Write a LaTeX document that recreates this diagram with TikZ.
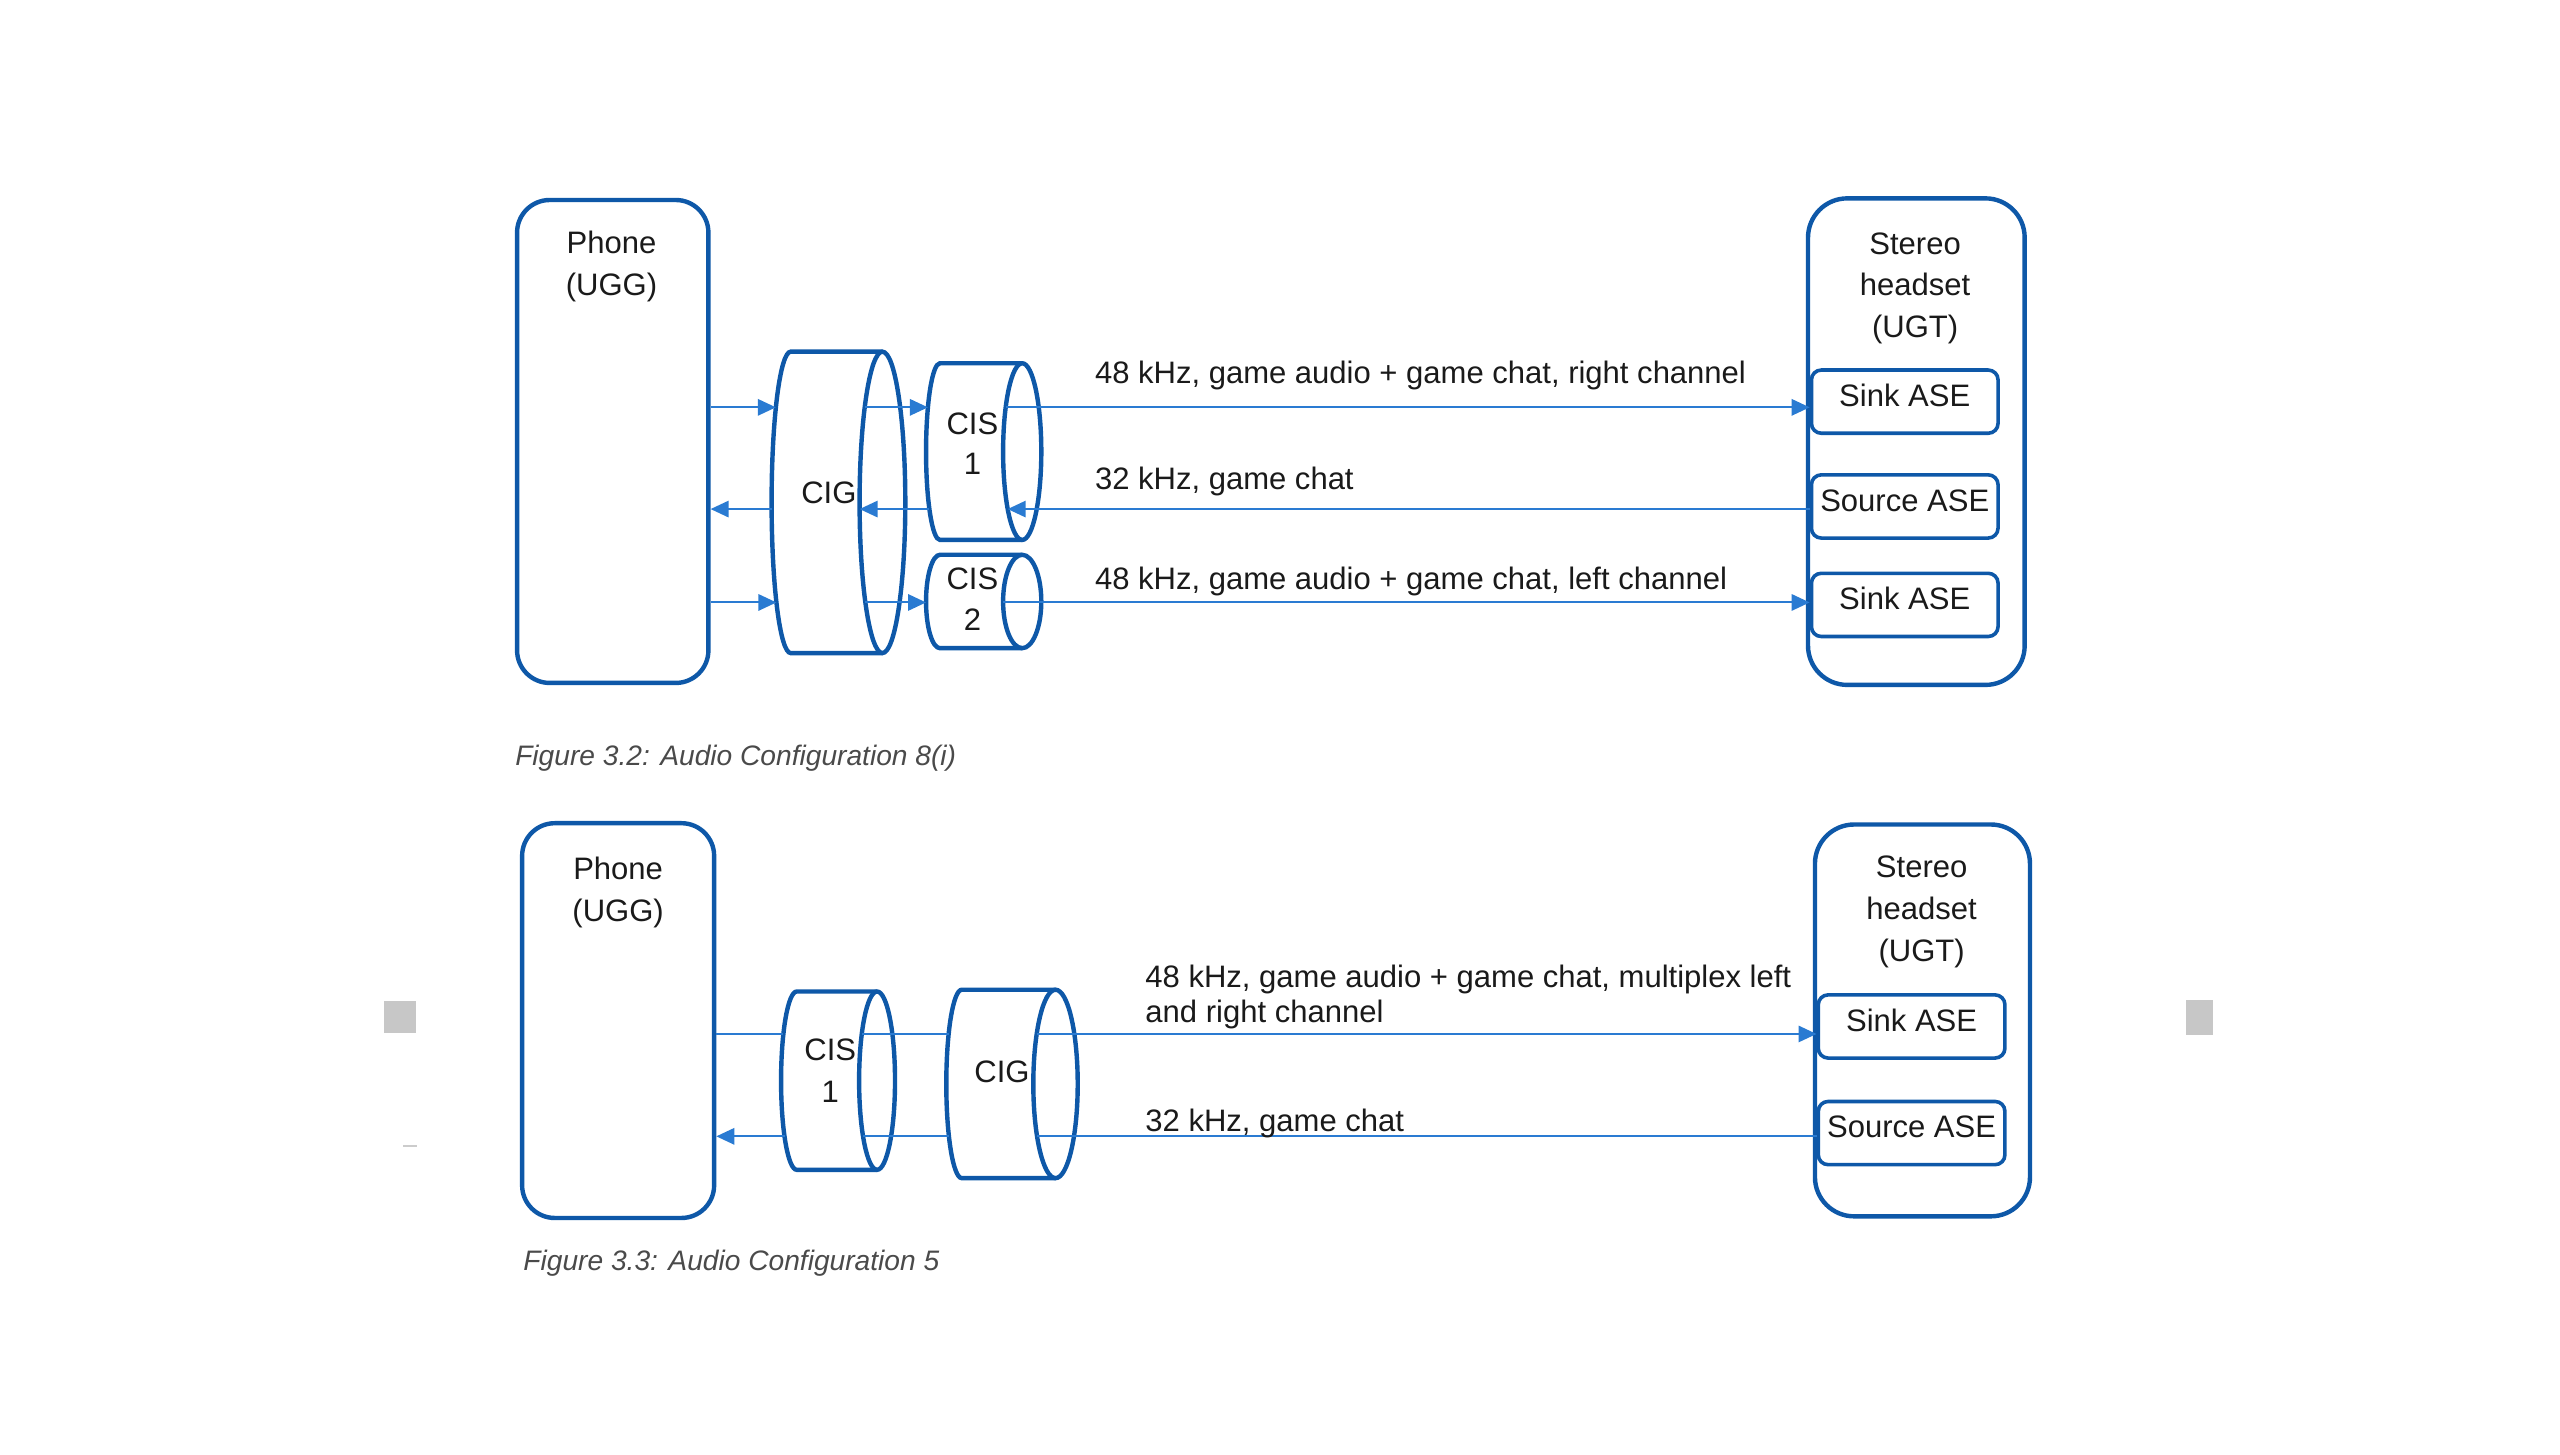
\documentclass[tikz,border=0pt]{standalone}
\usepackage{fontspec}
\setmainfont{Liberation Sans}
\usetikzlibrary{arrows.meta}
\definecolor{boxblue}{HTML}{0E58A8}
\definecolor{linkblue}{HTML}{2A7BD2}
\definecolor{capgray}{HTML}{4A4A4A}
\definecolor{txt}{HTML}{1A1A1A}
\newcommand\cylpoint[6]{% name, xc, rx, yc, ry, y
  \pgfmathsetmacro\cylpx{#2-#3*sqrt(1-((#6-(#4))/(#5))^2)}%
  \coordinate (#1) at (\cylpx,#6);}
\newcommand\drawcyl[6]{% xl, xr, yc, ry, rxl, rxr
  \draw[cylline] (#2,#3-#4) -- (#1,#3-#4) arc[start angle=90,end angle=270,x radius=#5pt,y radius=#4pt] -- (#2,#3+#4);
  \draw[cylline] (#2,#3) ellipse[x radius=#6pt,y radius=#4pt];}
\begin{document}
\begin{tikzpicture}[x=1pt,y=-1pt,
  every node/.style={font=\fontsize{19}{25.5}\selectfont, text=txt, inner sep=0pt},
  device/.style={draw=boxblue, line width=2.7pt, rounded corners=20pt},
  boxtext/.style={align=center, anchor=north},
  ase/.style={draw=boxblue, line width=2.2pt, rounded corners=6pt, minimum width=114.3pt,
    minimum height=38.7pt, text height=13.6pt, text depth=8pt, anchor=west},
  link/.style={draw=linkblue, line width=1.2pt},
  arr/.style={link, -{Triangle[length=11pt,width=10pt]}},
  cylline/.style={draw=boxblue, line width=2.7pt},
  lbl/.style={anchor=base west, align=left},
  figcaption/.style={anchor=base west, font=\fontsize{17.25}{20}\selectfont\itshape, text=capgray},
]
\fill[white] (0,0) rectangle (1568,891);
\useasboundingbox (0,0) rectangle (1568,891);

% small grey marks at the page edges
\fill[black!22] (235.2,613) rectangle (254.7,633);
\fill[black!22] (1338.6,612.4) rectangle (1355.2,633.8);
\fill[black!20] (246.8,701.4) rectangle (255.4,702.8);

% ================= Figure 3.2 =================
\node[device, minimum width=117.2pt, minimum height=295.8pt] (phone1) at (375.3,270.4) {};
\node[boxtext] (phone1t) at (374.5,141.6) {Phone\\(UGG)};
\node[device, rounded corners=24pt, minimum width=132.7pt, minimum height=298pt] (head1) at (1173.75,270.5) {};
\node[boxtext] (head1t) at (1173,142.2) {Stereo\\headset\\(UGT)};
\node[ase] (sink1a) at (1108.4,246) {Sink ASE};
\node[ase] (src1) at (1108.4,310.2) {Source ASE};
\node[ase] (sink1b) at (1108.4,370.5) {Sink ASE};

% cylinders
\drawcyl{484.3}{540.5}{307.7}{92.3}{11.7}{14}
\node (cig1) at (507.7,302) {CIG};
\drawcyl{575.7}{626.1}{276.6}{54.1}{8.5}{11.7}
\node[boxtext, font=\fontsize{19}{24.5}\selectfont] (cis1) at (595.6,252.4) {CIS\\1};
\drawcyl{575.7}{626.1}{368.4}{28.6}{8.5}{11.7}
\node[boxtext, font=\fontsize{19}{25.5}\selectfont] (cis2) at (595.6,347.4) {CIS\\2};

% connection points on the cylinder ends
\cylpoint{cigAL}{484.3}{11.7}{307.7}{92.3}{249.5}
\cylpoint{cigAR}{540.5}{14}{307.7}{92.3}{249.5}
\cylpoint{cigBL}{484.3}{11.7}{307.7}{92.3}{311.8}
\cylpoint{cigBR}{540.5}{14}{307.7}{92.3}{311.8}
\cylpoint{cigCL}{484.3}{11.7}{307.7}{92.3}{369}
\cylpoint{cigCR}{540.5}{14}{307.7}{92.3}{369}
\cylpoint{cisAL}{575.7}{8.5}{276.6}{54.1}{249.5}
\cylpoint{cisAR}{626.1}{11.7}{276.6}{54.1}{249.5}
\cylpoint{cisBL}{575.7}{8.5}{276.6}{54.1}{311.8}
\cylpoint{cisBR}{626.1}{11.7}{276.6}{54.1}{311.8}
\cylpoint{cistCL}{575.7}{8.5}{368.4}{28.6}{369}
\cylpoint{cistCR}{626.1}{11.7}{368.4}{28.6}{369}

% connectors
\draw[arr] (phone1.east |- cigAL) -- (cigAL);
\draw[arr] (cigAR) -- (cisAL);
\draw[arr] (cisAR) -- (sink1a.west |- cisAR);
\draw[arr] (src1.west |- cisBR) -- (cisBR);
\draw[arr] (cisBL) -- (cigBR);
\draw[arr] (cigBL) -- (phone1.east |- cigBL);
\draw[arr] (phone1.east |- cigCL) -- (cigCL);
\draw[arr] (cigCR) -- (cistCL);
\draw[arr] (cistCR) -- (sink1b.west |- cistCR);

% labels
\node[lbl] (l1) at (670.5,234.6) {48 kHz, game audio + game chat, right channel};
\node[lbl] (l2) at (670.5,300) {32 kHz, game chat};
\node[lbl] (l3) at (670.5,361.2) {48 kHz, game audio + game chat, left channel};
\node[figcaption] (cap1) at (315.4,469) {Figure 3.2: Audio Configuration 8(i)};

% ================= Figure 3.3 =================
\node[device, minimum width=117.6pt, minimum height=241.8pt] (phone2) at (378.6,625.1) {};
\node[boxtext] (phone2t) at (378.6,525) {Phone\\(UGG)};
\node[device, rounded corners=24pt, minimum width=131.7pt, minimum height=240pt] (head2) at (1177.5,625) {};
\node[boxtext] (head2t) at (1177,524.2) {Stereo\\headset\\(UGT)};
\node[ase] (sink2) at (1112.6,628.7) {Sink ASE};
\node[ase] (src2) at (1112.6,694) {Source ASE};

\drawcyl{488}{537.2}{661.9}{54.6}{9.6}{11}
\node[boxtext, font=\fontsize{19}{25.5}\selectfont] (cis3) at (508.5,636.2) {CIS\\1};
\drawcyl{589.1}{646.5}{663.9}{57.7}{9.5}{13.6}
\node (cig2) at (613.7,656.3) {CIG};

\cylpoint{dcisAL}{488}{9.6}{661.9}{54.6}{633.3}
\cylpoint{dcisAR}{537.2}{11}{661.9}{54.6}{633.3}
\cylpoint{dcisBL}{488}{9.6}{661.9}{54.6}{696}
\cylpoint{dcisBR}{537.2}{11}{661.9}{54.6}{696}
\cylpoint{dcigAL}{589.1}{9.5}{663.9}{57.7}{633.3}
\cylpoint{dcigAR}{646.5}{13.6}{663.9}{57.7}{633.3}
\cylpoint{dcigBL}{589.1}{9.5}{663.9}{57.7}{696}
\cylpoint{dcigBR}{646.5}{13.6}{663.9}{57.7}{696}

\draw[link] (phone2.east |- dcisAL) -- (dcisAL);
\draw[link] (dcisAR) -- (dcigAL);
\draw[arr] (dcigAR) -- (sink2.west |- dcigAR);
\draw[link] (src2.west |- dcigBR) -- (dcigBR);
\draw[link] (dcigBL) -- (dcisBR);
\draw[arr] (dcisBL) -- (phone2.east |- dcisBL);

\node[anchor=north west, align=left, font=\fontsize{19}{21.5}\selectfont] (l4) at (701.4,591.1)
  {48 kHz, game audio + game chat, multiplex left\\and right channel};
\node[lbl] (l5) at (701.4,692.9) {32 kHz, game chat};
\node[figcaption] (cap2) at (320.4,778) {Figure 3.3: Audio Configuration 5};
\end{tikzpicture}
\end{document}
